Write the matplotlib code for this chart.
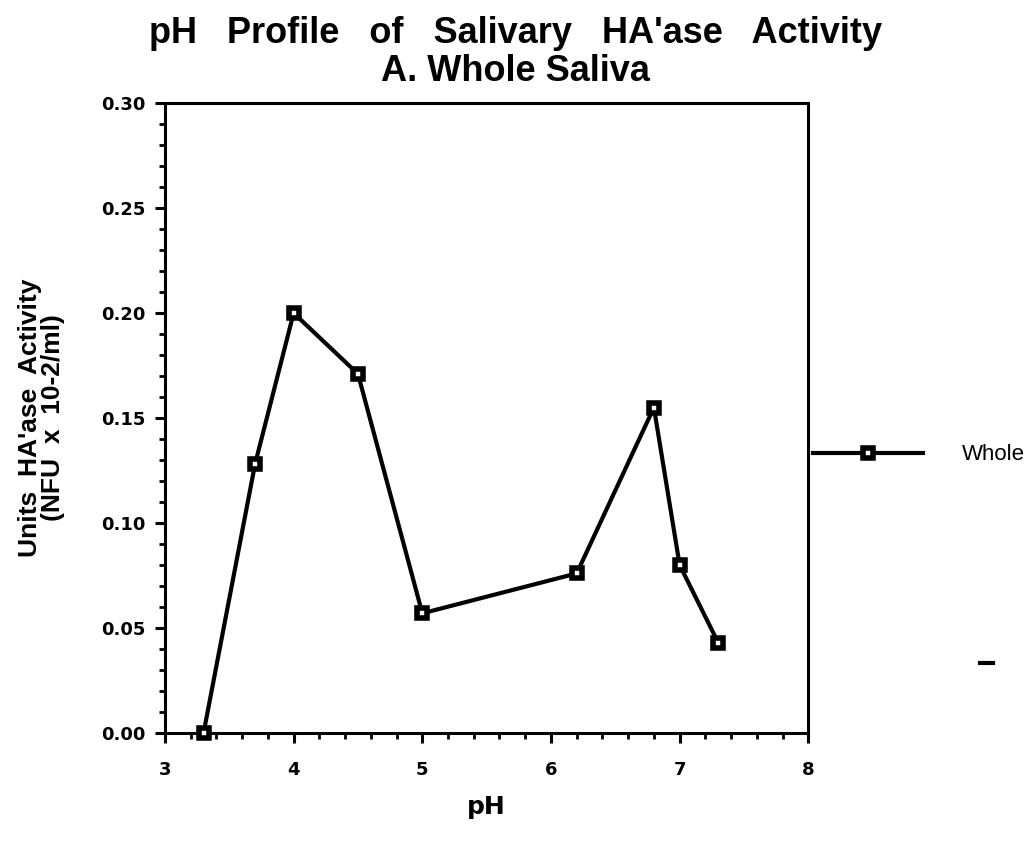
import numpy as np
import matplotlib
matplotlib.use('Agg')
import matplotlib.pyplot as plt
from matplotlib.lines import Line2D

ph = [3.3, 3.7, 4.0, 4.5, 5.0, 6.2, 6.8, 7.0, 7.3]
activity = [0.000, 0.128, 0.200, 0.171, 0.057, 0.076, 0.155, 0.080, 0.043]
series_name = 'Whole'

plt.rcParams['font.family'] = ['DejaVu Sans']
plt.rcParams['font.weight'] = 'bold'

fig = plt.figure(figsize=(10.31, 8.48), dpi=100)
ax = fig.add_axes([0.160, 0.1356, 0.624, 0.7429])

ax.plot(ph, activity, color='black', linewidth=3.0, marker='s', markersize=7.5,
        markerfacecolor='white', markeredgecolor='black', markeredgewidth=4.0,
        label=series_name, clip_on=False, zorder=3)

ax.set_xlim(3, 8)
ax.set_ylim(0, 0.30)
ax.set_xticks(np.arange(3, 8.01, 1))
ax.set_xticks(np.arange(3, 8.01, 0.2), minor=True)
ax.set_yticks(np.arange(0, 0.301, 0.05))
ax.set_yticks(np.arange(0, 0.301, 0.01), minor=True)
ax.set_yticklabels(['%.2f' % v for v in np.arange(0, 0.301, 0.05)])

for s in ax.spines.values():
    s.set_linewidth(2.2)
ax.tick_params(which='major', direction='out', length=7, width=2.2, labelsize=13)
ax.tick_params(axis='y', which='major', pad=7)
ax.tick_params(axis='x', which='major', pad=13)
ax.tick_params(which='minor', direction='out', length=4.5, width=2.0)
for lab in ax.get_xticklabels() + ax.get_yticklabels():
    lab.set_fontweight('bold')

ax.set_xlabel('pH', fontsize=18, fontweight='bold', labelpad=12)
ax.set_ylabel("Units  HA'ase  Activity\n(NFU  x  10-2/ml)", fontsize=19,
              fontweight='bold', labelpad=26, linespacing=0.95,
              family=['Liberation Sans', 'DejaVu Sans'])

title_font = ['Liberation Sans', 'DejaVu Sans']
fig.text(0.5, 0.960, "pH   Profile   of   Salivary   HA'ase   Activity",
         ha='center', va='center', fontsize=26, fontweight='bold',
         family=title_font)
fig.text(0.5, 0.916, "A. Whole Saliva", ha='center', va='center',
         fontsize=26, fontweight='bold', family=title_font)

leg = ax.legend(loc='center left', bbox_to_anchor=(0.789, 0.4635),
                bbox_transform=fig.transFigure, frameon=False,
                handlelength=4.95, handletextpad=1.75, borderpad=0,
                borderaxespad=0, fontsize=16)
for t in leg.get_texts():
    t.set_fontweight('normal')
    t.set_family(['Liberation Sans', 'DejaVu Sans'])

# stray dash at lower right of the scan
fig.add_artist(Line2D([0.951, 0.963], [0.218, 0.218], color='black',
                      linewidth=3, transform=fig.transFigure))

fig.savefig('out.png', dpi=100)
